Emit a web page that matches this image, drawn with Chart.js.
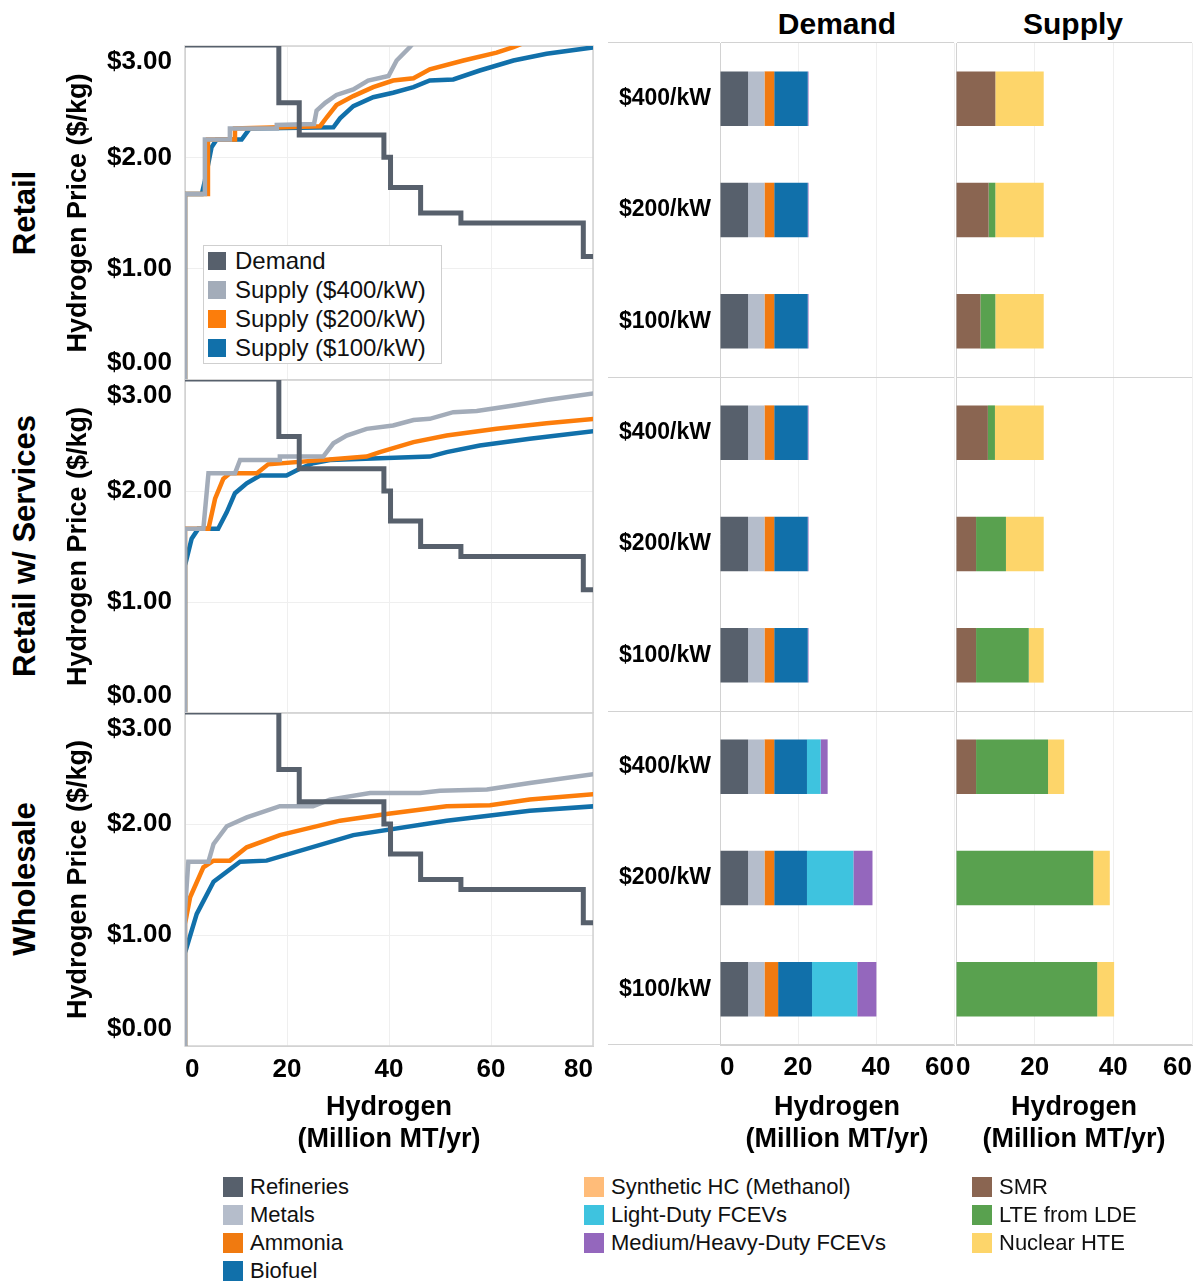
<!DOCTYPE html>
<html>
<head>
<meta charset="utf-8">
<title>Hydrogen supply and demand</title>
<script src="https://cdn.jsdelivr.net/npm/chart.js@4.4.1/dist/chart.umd.min.js"></script>
<style>
  body { margin: 0; background: #fff; font-family: Arial, "Liberation Sans", sans-serif; }
  #page { position: relative; width: 1198px; height: 1281px; overflow: hidden; }
  .box { position: absolute; }
  .rowTitle { position: absolute; font-weight: bold; font-size: 31px; white-space: nowrap; transform: translate(-50%, -50%) rotate(-90deg); }
  .head { position: absolute; font-weight: bold; font-size: 30px; white-space: nowrap; transform: translate(-50%, -50%); }
  .item { position: absolute; white-space: nowrap; display: flex; align-items: center; transform: translateY(-50%); color: #111; }
  .sw { display: inline-block; flex: none; }
  #lineLegend { position: absolute; left: 203px; top: 245px; width: 239px; height: 119px; border: 1px solid #cfcfcf; background: #fff; box-sizing: border-box; }
</style>
</head>
<body>
<div id="page">
  <div class="rowTitle" style="left:25px;top:213px">Retail</div>
  <div class="rowTitle" style="left:25px;top:546px">Retail w/ Services</div>
  <div class="rowTitle" style="left:25px;top:879px">Wholesale</div>
  <div class="head" style="left:837px;top:24px">Demand</div>
  <div class="head" style="left:1073px;top:24px">Supply</div>

  <div class="box" style="left:0;top:36px;width:600px;height:344px"><canvas id="retailChart"></canvas></div>
  <div class="box" style="left:0;top:370px;width:600px;height:343px"><canvas id="servicesChart"></canvas></div>
  <div class="box" style="left:0;top:703px;width:600px;height:457px"><canvas id="wholesaleChart"></canvas></div>
  <div class="box" style="left:600px;top:33px;width:364px;height:1127px"><canvas id="demandBars"></canvas></div>
  <div class="box" style="left:946px;top:33px;width:252px;height:1127px"><canvas id="supplyBars"></canvas></div>

  <div id="lineLegend"></div>
  <div id="sectorLegend"></div>
</div>

<script>
// price curves: [hydrogen (Million MT/yr), price ($/kg)]
const demandCurve = [[0, 3.01], [18.4, 3.01], [18.4, 2.49], [22.4, 2.49], [22.4, 2.2], [39.0, 2.2], [39.0, 2.0], [40.3, 2.0], [40.3, 1.73], [46.2, 1.73], [46.2, 1.5], [54.1, 1.5], [54.1, 1.41], [78.1, 1.41], [78.1, 1.11], [82, 1.11]];

const retailSupply400 = [[0, 0], [0, 1.67], [3.9, 1.67], [3.9, 2.16], [8.8, 2.16], [8.8, 2.26], [18.0, 2.26], [18.0, 2.29], [25.3, 2.3], [25.8, 2.42], [27.5, 2.49], [29.7, 2.56], [33.0, 2.61], [35.9, 2.69], [39.9, 2.73], [41.5, 2.87], [44.1, 2.99], [46, 3.1]];
const retailSupply200 = [[0, 0], [0, 1.67], [4.5, 1.67], [4.5, 2.16], [9.8, 2.16], [9.8, 2.26], [26.5, 2.28], [27.8, 2.36], [29.7, 2.47], [33.0, 2.55], [36.9, 2.63], [40.8, 2.69], [44.8, 2.71], [48.0, 2.79], [54.6, 2.87], [61.1, 2.94], [64.4, 2.99], [66, 3.02]];
const retailSupply100 = [[0, 0], [0, 1.67], [3.3, 1.67], [3.9, 1.79], [5.2, 2.09], [6.2, 2.16], [11.1, 2.16], [12.7, 2.26], [29.1, 2.27], [30.4, 2.35], [33.0, 2.46], [36.9, 2.54], [40.8, 2.58], [44.8, 2.63], [48.0, 2.69], [52.6, 2.7], [57.8, 2.78], [64.4, 2.87], [70.9, 2.93], [80.4, 2.99]];

const servicesSupply400 = [[0, 0], [0, 1.66], [3.6, 1.66], [4.6, 2.16], [9.8, 2.16], [10.8, 2.28], [18.6, 2.28], [18.6, 2.31], [27.1, 2.31], [29.1, 2.43], [31.7, 2.5], [35.6, 2.56], [40.8, 2.59], [44.8, 2.64], [48.0, 2.65], [52.6, 2.71], [57.2, 2.72], [64.4, 2.77], [70.9, 2.82], [80.4, 2.88]];
const servicesSupply200 = [[0, 0], [0, 1.66], [4.6, 1.66], [5.9, 1.93], [7.5, 2.11], [8.8, 2.16], [14.1, 2.16], [16.3, 2.24], [35.6, 2.31], [38.2, 2.35], [44.8, 2.44], [51.3, 2.5], [61.1, 2.56], [70.9, 2.61], [80.4, 2.65]];
const servicesSupply100 = [[0, 0], [0, 1.33], [1.3, 1.57], [2.6, 1.66], [6.5, 1.66], [8.2, 1.81], [9.8, 1.98], [12.1, 2.07], [14.7, 2.14], [19.9, 2.14], [22.5, 2.2], [25.1, 2.25], [28.4, 2.28], [48.0, 2.31], [51.3, 2.35], [57.8, 2.41], [67.6, 2.47], [80.4, 2.54]];

const wholesaleSupply400 = [[0, 0], [0, 1.22], [0.65, 1.66], [4.6, 1.66], [5.6, 1.82], [8.2, 1.98], [12.1, 2.06], [18.6, 2.16], [25.1, 2.16], [28.4, 2.22], [36.3, 2.28], [46.1, 2.28], [50.0, 2.3], [59.2, 2.31], [67.6, 2.37], [80.4, 2.45]];
const wholesaleSupply200 = [[0, 0], [0, 1.1], [1.0, 1.34], [3.6, 1.61], [5.6, 1.67], [8.8, 1.67], [12.1, 1.79], [18.6, 1.9], [30.4, 2.03], [39.5, 2.09], [51.3, 2.16], [59.8, 2.17], [67.6, 2.22], [80.4, 2.27]];
const wholesaleSupply100 = [[0, 0], [0, 0.84], [2.3, 1.19], [5.6, 1.48], [10.8, 1.66], [16.0, 1.67], [33.0, 1.9], [51.3, 2.03], [67.6, 2.12], [80.4, 2.16]];

const curveNames = ["Demand", "Supply ($400/kW)", "Supply ($200/kW)", "Supply ($100/kW)"];
const curveColors = ["#57606c", "#a3acb9", "#fc7d0b", "#1170aa"];
const priceTicks = [0, 1, 2, 3];

// stacked bars, top to bottom: Retail, Retail w/ Services, Wholesale
const rowLabels = ["$400/kW", "$200/kW", "$100/kW", "$400/kW", "$200/kW", "$100/kW", "$400/kW", "$200/kW", "$100/kW"];

const refineries = [7.2, 7.2, 7.2, 7.2, 7.2, 7.2, 7.2, 7.2, 7.2];
const metals = [4.2, 4.2, 4.2, 4.2, 4.2, 4.2, 4.2, 4.2, 4.2];
const ammonia = [2.5, 2.5, 2.5, 2.5, 2.5, 2.5, 2.5, 2.5, 3.5];
const biofuel = [8.6, 8.6, 8.6, 8.6, 8.6, 8.6, 8.4, 8.4, 8.7];
const syntheticHC = [0, 0, 0, 0, 0, 0, 0, 0, 0];
const lightDuty = [0, 0, 0, 0, 0, 0, 3.5, 11.9, 11.6];
const mediumHeavy = [0.2, 0.2, 0.2, 0.2, 0.2, 0.2, 1.8, 4.9, 4.9];

const smr = [10.0, 8.3, 6.2, 8.1, 5.1, 5.1, 5.1, 0, 0];
const lteFromLde = [0, 1.7, 3.8, 1.8, 7.6, 13.4, 18.3, 34.9, 35.9];
const nuclearHte = [12.3, 12.3, 12.3, 12.4, 9.6, 3.8, 4.1, 4.2, 4.3];

const demandSectors = ["Refineries", "Metals", "Ammonia", "Biofuel", "Synthetic HC (Methanol)", "Light-Duty FCEVs", "Medium/Heavy-Duty FCEVs"];
const demandColors = ["#57606c", "#b5bdcb", "#f07a10", "#1170aa", "#ffbc79", "#3ec3df", "#9467bd"];
const demandValues = [refineries, metals, ammonia, biofuel, syntheticHC, lightDuty, mediumHeavy];

const supplyTechs = ["SMR", "LTE from LDE", "Nuclear HTE"];
const supplyColors = ["#8a6551", "#59a14f", "#fdd56a"];
const supplyValues = [smr, lteFromLde, nuclearHte];

const hydrogenTicks = [0, 20, 40, 60];

Chart.defaults.font.family = 'Arial, "Liberation Sans", sans-serif';
Chart.defaults.color = "#000";

const axisTitle = ["Hydrogen", "(Million MT/yr)"];
const boldFont = (size) => ({ size: size, weight: "bold" });

// first/last price label sit inside the panel, like the original
const innerYLabels = {
    id: "innerYLabels",
    beforeDraw(chart) {
        const items = chart.scales.y.getLabelItems();
        if (!items.length || items[0].shifted) return;
        items[0].options.translation[1] -= 17;
        items[items.length - 1].options.translation[1] += 16;
        items[0].shifted = true;
    },
};

const panelFrame = {
    id: "panelFrame",
    beforeDatasetsDraw(chart) {
        const a = chart.chartArea;
        const ctx = chart.ctx;
        ctx.save();
        ctx.strokeStyle = "#d2d2d2";
        ctx.lineWidth = 1.5;
        ctx.strokeRect(a.left, a.top, a.right - a.left, a.bottom - a.top);
        ctx.restore();
    },
};

function priceChart(id, curves, showX) {
    const el = document.getElementById(id);
    if (!el) return;
    new Chart(el.getContext("2d"), {
        type: "line",
        data: {
            datasets: curves.map((pts, i) => ({
                label: curveNames[i],
                data: pts.map((p) => ({ x: p[0], y: p[1] })),
                borderColor: curveColors[i],
                backgroundColor: curveColors[i],
                borderWidth: i === 0 ? 5 : 4.5,
                pointRadius: 0,
                tension: 0,
                fill: false,
                clip: 0,
            })),
        },
        options: {
            responsive: true,
            maintainAspectRatio: false,
            animation: false,
            layout: { padding: { top: 10, right: 7, bottom: 0, left: 0 } },
            plugins: { legend: { display: false }, tooltip: { enabled: false } },
            scales: {
                x: {
                    type: "linear",
                    min: 0,
                    max: 80,
                    afterBuildTicks: (s) => { s.ticks = [0, 20, 40, 60, 80].map((v) => ({ value: v })); },
                    ticks: { display: showX, align: "inner", padding: 8, font: boldFont(26), color: "#000" },
                    grid: { color: "#efefef", drawTicks: false },
                    border: { color: "#d2d2d2" },
                    title: { display: showX, text: axisTitle, font: boldFont(27), color: "#000", padding: { top: 0, bottom: 4 } },
                    afterFit: (s) => {
                        s.height = showX ? 114 : 0;
                        s.paddingLeft = 0;
                        s.paddingRight = 0;
                    },
                },
                y: {
                    min: 0,
                    max: 3,
                    afterBuildTicks: (s) => { s.ticks = priceTicks.map((v) => ({ value: v })); },
                    ticks: { padding: 13, font: boldFont(26), color: "#000", callback: (v) => "$" + Number(v).toFixed(2) },
                    grid: { color: "#efefef", drawTicks: false },
                    border: { color: "#d2d2d2" },
                    title: { display: true, text: "Hydrogen Price ($/kg)", font: boldFont(27), color: "#000", padding: { top: 62, bottom: 0 } },
                    afterFit: (s) => {
                        s.width = 185;
                        s.paddingTop = 0;
                        s.paddingBottom = 0;
                    },
                },
            },
        },
        plugins: [innerYLabels, panelFrame],
    });
}

// only every third row boundary is a panel separator
const panelSeparator = (c) => (c.index === undefined || c.index % 3 === 0 ? "#d2d2d2" : "rgba(0,0,0,0)");

function barChart(id, names, colors, values, withLabels) {
    const el = document.getElementById(id);
    if (!el) return;
    new Chart(el.getContext("2d"), {
        type: "bar",
        data: {
            labels: rowLabels,
            datasets: names.map((n, i) => ({
                label: n,
                data: values[i],
                backgroundColor: colors[i],
                borderWidth: 0,
                barPercentage: 0.49,
                categoryPercentage: 1,
            })),
        },
        options: {
            indexAxis: "y",
            responsive: true,
            maintainAspectRatio: false,
            animation: false,
            layout: { padding: withLabels ? { top: 10, right: 10, bottom: 0, left: 0 } : { top: 10, right: 6, bottom: 0, left: 10 } },
            plugins: { legend: { display: false }, tooltip: { enabled: false } },
            scales: {
                x: {
                    type: "linear",
                    stacked: true,
                    min: 0,
                    max: 60,
                    afterBuildTicks: (s) => { s.ticks = hydrogenTicks.map((v) => ({ value: v })); },
                    ticks: { align: "inner", padding: 7, font: boldFont(26), color: "#000" },
                    grid: { color: "#efefef", drawTicks: false },
                    border: { color: "#d2d2d2" },
                    title: { display: true, text: axisTitle, font: boldFont(27), color: "#000", padding: { top: 0, bottom: 4 } },
                    afterFit: (s) => {
                        s.height = 115;
                        s.paddingLeft = 0;
                        s.paddingRight = 0;
                    },
                },
                y: {
                    stacked: true,
                    ticks: { display: withLabels, padding: -103, font: boldFont(23), color: "#000" },
                    grid: { offset: true, color: panelSeparator, drawTicks: withLabels, tickLength: 112 },
                    border: { color: "#d2d2d2" },
                    afterFit: (s) => {
                        s.width = withLabels ? 120 : 0;
                        s.paddingTop = 0;
                        s.paddingBottom = 0;
                    },
                },
            },
        },
    });
}

function legendItem(parent, name, color, x, y, sw, size) {
    const item = document.createElement("div");
    item.className = "item";
    item.style.left = x + "px";
    item.style.top = y + "px";
    item.style.fontSize = size + "px";
    const box = document.createElement("span");
    box.className = "sw";
    box.style.width = sw + "px";
    box.style.height = sw + "px";
    box.style.background = color;
    box.style.marginRight = (size > 23 ? 9 : 7) + "px";
    item.appendChild(box);
    item.appendChild(document.createTextNode(name));
    parent.appendChild(item);
}

document.addEventListener("DOMContentLoaded", function () {
    priceChart("retailChart", [demandCurve, retailSupply400, retailSupply200, retailSupply100], false);
    priceChart("servicesChart", [demandCurve, servicesSupply400, servicesSupply200, servicesSupply100], false);
    priceChart("wholesaleChart", [demandCurve, wholesaleSupply400, wholesaleSupply200, wholesaleSupply100], true);
    barChart("demandBars", demandSectors, demandColors, demandValues, true);
    barChart("supplyBars", supplyTechs, supplyColors, supplyValues, false);

    const lineLegend = document.getElementById("lineLegend");
    curveNames.forEach((n, i) => legendItem(lineLegend, n, curveColors[i], 4, 15 + i * 29, 18, 24));

    const sectorLegend = document.getElementById("sectorLegend");
    demandSectors.forEach((n, i) => {
        const col = i < 4 ? 223 : 584;
        const row = i < 4 ? i : i - 4;
        legendItem(sectorLegend, n, demandColors[i], col, 1187 + row * 28, 20, 22);
    });
    supplyTechs.forEach((n, i) => legendItem(sectorLegend, n, supplyColors[i], 972, 1187 + i * 28, 20, 22));
});
</script>
</body>
</html>
